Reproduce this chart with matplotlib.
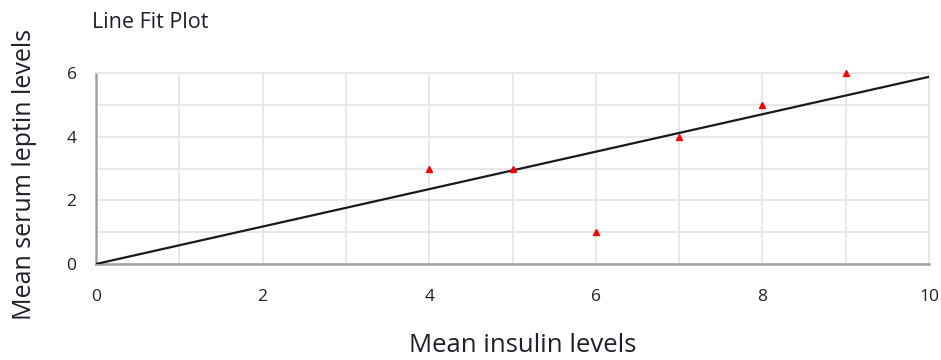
import matplotlib
matplotlib.use("Agg")
import matplotlib.pyplot as plt

# Data
insulin = [4, 5, 6, 7, 8, 9]
leptin = [3, 3, 1, 4, 5, 6]
fit_x = [0, 10]
fit_y = [0, 5.88]
x_ticks = [0, 2, 4, 6, 8, 10]
y_ticks = [0, 2, 4, 6]

plt.rcParams['font.family'] = ['Open Sans', 'DejaVu Sans']

fig = plt.figure(figsize=(9.41, 3.6), dpi=100)
ax = fig.add_axes([96/941, 1 - 264/360, (929 - 96)/941, (264 - 73)/360])

ax.set_xlim(0, 10)
ax.set_ylim(0, 6)
ax.set_xticks(range(0, 11))
ax.set_yticks(range(0, 7))
ax.grid(True, color='#e6e6e6', linewidth=1.3, zorder=0)
ax.set_axisbelow(True)

ax.set_xticklabels([str(t) if t in x_ticks else '' for t in range(0, 11)])
ax.set_yticklabels([str(t) if t in y_ticks else '' for t in range(0, 7)])
ax.tick_params(axis='both', length=0, labelsize=12.5, labelcolor='#1f1f2a')
ax.tick_params(axis='x', pad=18)
ax.tick_params(axis='y', pad=14)

for s in ['top', 'right']:
    ax.spines[s].set_color('#e6e6e6')
    ax.spines[s].set_linewidth(1.3)
for s in ['left', 'bottom']:
    ax.spines[s].set_color('#a0a0a0')
    ax.spines[s].set_linewidth(1.8)

ax.plot(fit_x, fit_y, color='#1a1a1a', linewidth=1.6, zorder=3)
ax.plot(insulin, leptin, linestyle='none', marker='^', color='#ff0000',
        markersize=5, zorder=4, clip_on=False)

ax.set_xlabel('Mean insulin levels', fontsize=18.5, color='#1f1f2a')
ax.set_ylabel('Mean serum leptin levels', fontsize=18, color='#1f1f2a')
ax.yaxis.set_label_coords((37 - 96)/833, 0.5 - 6/191)
ax.xaxis.set_label_coords(0.5 + 10/833, -(333 - 264)/191)

fig.text(92/941, 1 - 22/360, 'Line Fit Plot', fontsize=15.5, color='#1f1f2a',
         va='center', ha='left')

fig.savefig('out.png', dpi=100)
